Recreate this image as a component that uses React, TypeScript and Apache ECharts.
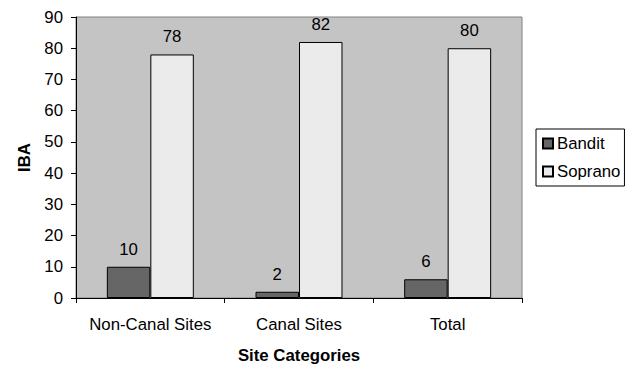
import React, { useEffect, useRef } from "react";
import * as echarts from "echarts";

const categories = ["Non-Canal Sites", "Canal Sites", "Total"];
const banditValues = [10, 2, 6];
const sopranoValues = [78, 82, 80];
const yTicks = { min: 0, max: 90, interval: 10 };

const FONT = "'Liberation Sans', Arial, sans-serif";
const FS = 16.8;

export default function App() {
  const ref = useRef<HTMLDivElement>(null);

  useEffect(() => {
    if (!ref.current) return;
    const chart = echarts.init(ref.current, undefined, { renderer: "svg" });
    const labelStyle = {
      show: true,
      position: "top" as const,
      distance: 9,
      color: "#000",
      fontSize: FS,
      fontFamily: FONT,
    };
    chart.setOption({
      animation: false,
      textStyle: { fontFamily: FONT },
      grid: {
        left: 76,
        top: 17,
        right: 111,
        bottom: 67,
        show: true,
        backgroundColor: "#C4C4C4",
        borderColor: "#808080",
        borderWidth: 1,
      },
      legend: {
        orient: "vertical",
        left: 536,
        top: 129,
        itemWidth: 10,
        itemHeight: 10,
        itemGap: 11,
        icon: "rect",
        borderColor: "#000",
        borderWidth: 1,
        padding: [6, 4, 6, 6],
        textStyle: { fontSize: FS, color: "#000", fontFamily: FONT, padding: [0, 0, 0, -1] },
        data: ["Bandit", "Soprano"],
      },
      xAxis: {
        type: "category",
        data: categories,
        name: "Site Categories",
        nameLocation: "middle",
        nameGap: 49,
        nameTextStyle: { fontWeight: "bold", fontSize: FS, color: "#000" },
        axisLine: { lineStyle: { color: "#000", width: 1 } },
        axisTick: { show: true, length: 5, lineStyle: { color: "#000" } },
        axisLabel: { color: "#000", fontSize: FS, margin: 18, interval: 0 },
      },
      yAxis: {
        type: "value",
        min: yTicks.min,
        max: yTicks.max,
        interval: yTicks.interval,
        name: "IBA",
        nameLocation: "middle",
        nameGap: 42,
        nameRotate: 90,
        nameTextStyle: { fontWeight: "bold", fontSize: FS, color: "#000" },
        axisLine: { show: true, lineStyle: { color: "#000", width: 1 } },
        axisTick: { show: true, length: 5, lineStyle: { color: "#000" } },
        axisLabel: { color: "#000", fontSize: FS, margin: 13 },
        splitLine: { show: false },
      },
      series: [
        {
          name: "Bandit",
          type: "bar",
          data: banditValues,
          barGap: "0%",
          barCategoryGap: "41.5%",
          itemStyle: { color: "#666666", borderColor: "#000", borderWidth: 1 },
          label: labelStyle,
        },
        {
          name: "Soprano",
          type: "bar",
          data: sopranoValues,
          barGap: "0%",
          barCategoryGap: "41.5%",
          itemStyle: { color: "#EBEBEB", borderColor: "#000", borderWidth: 1 },
          label: labelStyle,
        },
      ],
    });
    return () => chart.dispose();
  }, []);

  return (
    <div
      ref={ref}
      style={{ position: "absolute", left: 0, top: 0, width: 633, height: 369 }}
    />
  );
}
